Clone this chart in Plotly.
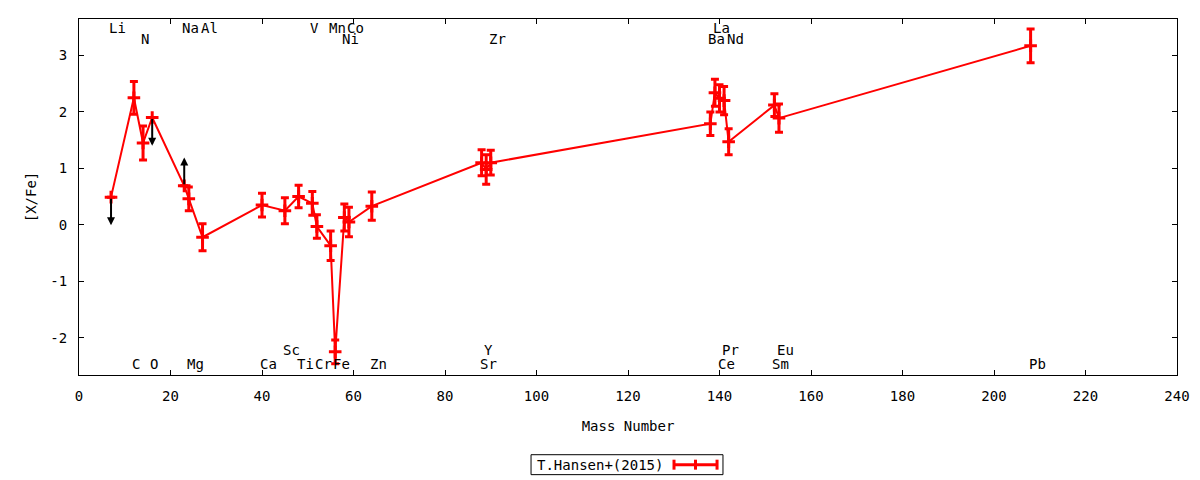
import plotly.graph_objects as go

# ---- data ----
elements = ["Li", "C", "N", "O", "Na", "Mg", "Al", "Ca", "Sc", "Ti", "V", "Cr", "Mn", "Fe",
            "Ni", "Co", "Zn", "Sr", "Y", "Zr", "Ba", "La", "Ce", "Pr", "Nd", "Sm", "Eu", "Pb"]
mass = [7, 12, 14, 16, 23, 24, 27, 40, 45, 48, 51, 52, 55, 56,
        58, 59, 64, 88, 89, 90, 138, 139, 140, 141, 142, 152, 153, 208]
xfe = [0.49, 2.25, 1.45, 1.90, 0.69, 0.46, -0.22, 0.35, 0.25, 0.50, 0.38, -0.03, -0.37, -2.25,
       0.13, 0.05, 0.33, 1.10, 0.98, 1.10, 1.79, 2.34, 2.24, 2.20, 1.47, 2.12, 1.89, 3.17]
err = [0.0, 0.29, 0.30, 0.0, 0.0, 0.21, 0.24, 0.21, 0.23, 0.20, 0.21, 0.21, 0.26, 0.21,
       0.24, 0.26, 0.25, 0.23, 0.26, 0.22, 0.21, 0.24, 0.24, 0.25, 0.23, 0.20, 0.25, 0.30]
limit = ["upper", "", "", "upper", "lower", "", "", "", "", "", "", "", "", "",
         "", "", "", "", "", "", "", "", "", "", "", "", "", ""]
label_row = ["T1", "B1", "T2", "B1", "T1", "B1", "T1", "B1", "B2", "B1", "T1", "B1", "T1", "B1",
             "T2", "T1", "B1", "B1", "B2", "T2", "T2", "T1", "B1", "B2", "T2", "B1", "B2", "B1"]
series_name = "T.Hansen+(2015)"
limit_len = 0.5

x_ticks = list(range(0, 241, 20))
y_ticks = [-2, -1, 0, 1, 2, 3]

RED = "#ff0000"
FONT = "DejaVu Sans Mono"
FS = 14
ROW_Y = {"T1": 3.48, "T2": 3.29, "B2": -2.22, "B1": -2.46}

fig = go.Figure()
fig.add_trace(go.Scatter(
    x=mass, y=xfe, mode="lines+markers", name=series_name,
    line=dict(color=RED, width=2),
    marker=dict(symbol="cross-thin", size=9, color=RED, line=dict(color=RED, width=3)),
    error_y=dict(type="data", array=err, color=RED, thickness=3, width=4),
    showlegend=False,
))

# limit arrows
for m, v, lim in zip(mass, xfe, limit):
    if not lim:
        continue
    head = v - limit_len if lim == "upper" else v + limit_len
    fig.add_annotation(x=m, y=head, ax=m, ay=v, xref="x", yref="y", axref="x", ayref="y",
                       showarrow=True, arrowhead=2, arrowsize=0.8, arrowwidth=2,
                       arrowcolor="black", text="")

# element labels
for el, m, row in zip(elements, mass, label_row):
    fig.add_annotation(x=m, y=ROW_Y[row], xref="x", yref="y", text=el, showarrow=False,
                       xanchor="left", yanchor="middle", xshift=-4,
                       font=dict(family=FONT, size=FS, color="black"))

# manual legend (text then sample, as in the reference)
lx0, lx1, ly0, ly1 = 0.4117, 0.5865, -0.2799, -0.2239
fig.add_shape(type="rect", xref="paper", yref="paper", x0=lx0, x1=lx1, y0=ly0, y1=ly1,
              line=dict(color="black", width=1), fillcolor="white")
fig.add_annotation(xref="paper", yref="paper", x=0.5337, y=(ly0 + ly1) / 2, text=series_name,
                   showarrow=False, xanchor="right", yanchor="middle",
                   font=dict(family=FONT, size=FS, color="black"))
sx0, sx1, sy = 0.5419, 0.5811, (ly0 + ly1) / 2
fig.add_shape(type="line", xref="paper", yref="paper", x0=sx0, x1=sx1, y0=sy, y1=sy,
              line=dict(color=RED, width=3))
for sx in (sx0, sx1, (sx0 + sx1) / 2):
    fig.add_shape(type="line", xref="paper", yref="paper", x0=sx, x1=sx, y0=sy - 0.014, y1=sy + 0.014,
                  line=dict(color=RED, width=3))

axis_common = dict(showline=True, linecolor="black", linewidth=1, mirror="ticks",
                   ticks="inside", ticklen=5, tickcolor="black", showgrid=False, zeroline=False,
                   tickfont=dict(family=FONT, size=FS, color="black"))
fig.update_xaxes(range=[0, 240], tickvals=x_ticks, ticktext=[str(t) for t in x_ticks],
                 title=dict(text="Mass Number", font=dict(family=FONT, size=FS, color="black"), standoff=18),
                 ticklabelstandoff=8, **axis_common)
fig.update_yaxes(range=[-2.66, 3.645], tickvals=y_ticks, ticktext=[str(t) for t in y_ticks],
                 title=dict(text="[X/Fe]", font=dict(family=FONT, size=FS, color="black"), standoff=10),
                 ticklabelstandoff=8, **axis_common)

# the page body has an 8px margin, so the figure is 8px smaller and margins are shifted
fig.update_layout(width=1192, height=472, margin=dict(l=71, r=15, t=10, b=105),
                  plot_bgcolor="white", paper_bgcolor="white",
                  font=dict(family=FONT, size=FS, color="black"))

fig.write_html("out.html")
